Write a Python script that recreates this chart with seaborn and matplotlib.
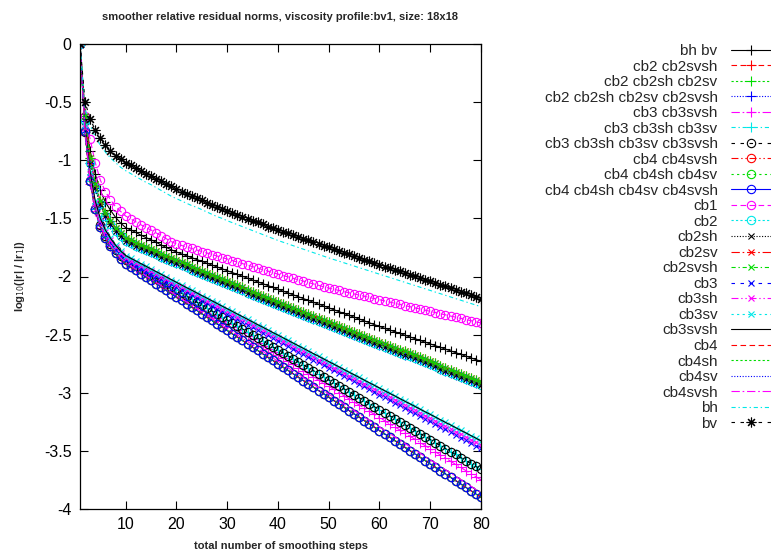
import matplotlib
matplotlib.use("Agg")
import matplotlib.pyplot as plt
import numpy as np
import pandas as pd
import seaborn as sns

# ---------------------------------------------------------------- data
steps = list(range(1, 81))

res_bv = [0, -0.50, -0.645, -0.74, -0.81, -0.87, -0.92, -0.96, -0.99, -1.02,
          -1.045, -1.07, -1.09, -1.115, -1.135, -1.16, -1.18, -1.205, -1.225, -1.25,
          -1.27, -1.29, -1.305, -1.325, -1.345, -1.365, -1.385, -1.40, -1.42, -1.44,
          -1.455, -1.47, -1.49, -1.505, -1.52, -1.535, -1.55, -1.57, -1.585, -1.60,
          -1.615, -1.63, -1.645, -1.66, -1.675, -1.69, -1.705, -1.72, -1.735, -1.75,
          -1.765, -1.78, -1.795, -1.81, -1.825, -1.84, -1.855, -1.87, -1.885, -1.90,
          -1.914, -1.928, -1.942, -1.956, -1.97, -1.984, -1.998, -2.012, -2.026, -2.04,
          -2.055, -2.07, -2.085, -2.10, -2.115, -2.13, -2.145, -2.16, -2.175, -2.19]

res_bh = [0, -0.56, -0.70, -0.80, -0.87, -0.93, -0.98, -1.02, -1.06, -1.09,
          -1.115, -1.14, -1.165, -1.19, -1.21, -1.235, -1.26, -1.285, -1.31, -1.33,
          -1.35, -1.37, -1.39, -1.405, -1.425, -1.445, -1.465, -1.485, -1.50, -1.52,
          -1.537, -1.554, -1.571, -1.588, -1.605, -1.622, -1.639, -1.656, -1.673, -1.69,
          -1.705, -1.72, -1.735, -1.75, -1.765, -1.78, -1.795, -1.81, -1.825, -1.84,
          -1.854, -1.868, -1.882, -1.896, -1.91, -1.924, -1.938, -1.952, -1.966, -1.98,
          -1.994, -2.008, -2.022, -2.036, -2.05, -2.064, -2.078, -2.092, -2.106, -2.12,
          -2.134, -2.148, -2.162, -2.176, -2.19, -2.204, -2.218, -2.232, -2.246, -2.26]

res_cb1 = [0, -0.62, -0.82, -1.02, -1.17, -1.27, -1.34, -1.40, -1.44, -1.48,
           -1.505, -1.53, -1.555, -1.58, -1.60, -1.625, -1.65, -1.675, -1.70, -1.72,
           -1.733, -1.746, -1.759, -1.772, -1.785, -1.798, -1.811, -1.824, -1.837, -1.85,
           -1.863, -1.876, -1.889, -1.902, -1.915, -1.928, -1.941, -1.954, -1.967, -1.98,
           -1.992, -2.004, -2.016, -2.028, -2.04, -2.052, -2.064, -2.076, -2.088, -2.10,
           -2.11, -2.12, -2.13, -2.14, -2.15, -2.16, -2.17, -2.18, -2.19, -2.20,
           -2.21, -2.22, -2.23, -2.24, -2.25, -2.26, -2.27, -2.28, -2.29, -2.30,
           -2.31, -2.32, -2.33, -2.34, -2.35, -2.36, -2.37, -2.38, -2.39, -2.40]

res_bhbv = [0, -0.60, -0.92, -1.12, -1.26, -1.36, -1.43, -1.49, -1.54, -1.58,
            -1.60, -1.62, -1.645, -1.665, -1.685, -1.705, -1.73, -1.75, -1.77, -1.79,
            -1.806, -1.822, -1.838, -1.854, -1.87, -1.886, -1.902, -1.918, -1.934, -1.95,
            -1.966, -1.982, -1.998, -2.014, -2.03, -2.046, -2.062, -2.078, -2.094, -2.11,
            -2.126, -2.142, -2.158, -2.174, -2.19, -2.206, -2.222, -2.238, -2.254, -2.27,
            -2.286, -2.302, -2.318, -2.334, -2.35, -2.366, -2.382, -2.398, -2.414, -2.43,
            -2.445, -2.46, -2.475, -2.49, -2.505, -2.52, -2.535, -2.55, -2.565, -2.58,
            -2.595, -2.61, -2.625, -2.64, -2.655, -2.67, -2.685, -2.70, -2.715, -2.73]

res_cb2_a = [0, -0.62, -0.98, -1.20, -1.35, -1.45, -1.52, -1.58, -1.63, -1.67,
             -1.69, -1.71, -1.727, -1.746, -1.765, -1.784, -1.803, -1.822, -1.841, -1.86,
             -1.878, -1.896, -1.914, -1.932, -1.95, -1.968, -1.986, -2.004, -2.022, -2.04,
             -2.058, -2.076, -2.094, -2.112, -2.13, -2.148, -2.166, -2.184, -2.202, -2.22,
             -2.237, -2.254, -2.271, -2.288, -2.305, -2.322, -2.339, -2.356, -2.373, -2.39,
             -2.407, -2.424, -2.441, -2.458, -2.475, -2.492, -2.509, -2.526, -2.543, -2.56,
             -2.577, -2.594, -2.611, -2.628, -2.645, -2.662, -2.679, -2.696, -2.713, -2.73,
             -2.748, -2.766, -2.784, -2.802, -2.82, -2.838, -2.856, -2.874, -2.892, -2.91]

res_cb2_b = [0, -0.66, -1.02, -1.24, -1.38, -1.48, -1.55, -1.61, -1.655, -1.695,
             -1.715, -1.735, -1.753, -1.772, -1.791, -1.81, -1.829, -1.848, -1.867, -1.886,
             -1.904, -1.922, -1.94, -1.958, -1.976, -1.994, -2.012, -2.03, -2.048, -2.066,
             -2.084, -2.102, -2.12, -2.138, -2.156, -2.174, -2.192, -2.21, -2.228, -2.246,
             -2.263, -2.28, -2.297, -2.314, -2.331, -2.348, -2.365, -2.382, -2.399, -2.416,
             -2.433, -2.45, -2.467, -2.484, -2.501, -2.518, -2.535, -2.552, -2.569, -2.586,
             -2.603, -2.62, -2.637, -2.654, -2.671, -2.688, -2.705, -2.722, -2.739, -2.756,
             -2.774, -2.792, -2.81, -2.828, -2.846, -2.864, -2.882, -2.90, -2.918, -2.936]

res_cb3_svsh = [0, -0.70, -1.10, -1.35, -1.50, -1.60, -1.67, -1.73, -1.78, -1.82,
                -1.843, -1.866, -1.889, -1.912, -1.935, -1.958, -1.981, -2.004, -2.027, -2.05,
                -2.073, -2.096, -2.118, -2.141, -2.164, -2.186, -2.209, -2.232, -2.255, -2.277,
                -2.30, -2.323, -2.345, -2.368, -2.391, -2.414, -2.436, -2.459, -2.482, -2.504,
                -2.527, -2.55, -2.573, -2.595, -2.618, -2.641, -2.664, -2.686, -2.709, -2.732,
                -2.754, -2.777, -2.80, -2.823, -2.845, -2.868, -2.891, -2.914, -2.936, -2.959,
                -2.982, -3.005, -3.027, -3.05, -3.073, -3.095, -3.118, -3.141, -3.164, -3.186,
                -3.209, -3.232, -3.255, -3.277, -3.30, -3.323, -3.345, -3.368, -3.391, -3.414]

res_cb3_sh = [0, -0.72, -1.12, -1.37, -1.52, -1.62, -1.69, -1.75, -1.80, -1.84,
              -1.863, -1.886, -1.909, -1.932, -1.955, -1.978, -2.001, -2.024, -2.047, -2.07,
              -2.093, -2.116, -2.139, -2.162, -2.185, -2.208, -2.231, -2.254, -2.277, -2.30,
              -2.323, -2.346, -2.369, -2.392, -2.415, -2.438, -2.461, -2.484, -2.507, -2.53,
              -2.553, -2.576, -2.599, -2.622, -2.645, -2.668, -2.691, -2.714, -2.737, -2.76,
              -2.783, -2.806, -2.829, -2.852, -2.875, -2.898, -2.921, -2.944, -2.967, -2.99,
              -3.013, -3.036, -3.059, -3.082, -3.105, -3.128, -3.151, -3.174, -3.197, -3.22,
              -3.243, -3.266, -3.289, -3.312, -3.335, -3.358, -3.381, -3.404, -3.427, -3.45]

res_cb3 = [0, -0.74, -1.14, -1.39, -1.54, -1.64, -1.71, -1.77, -1.82, -1.86,
           -1.883, -1.906, -1.929, -1.952, -1.976, -1.999, -2.022, -2.045, -2.068, -2.091,
           -2.114, -2.137, -2.16, -2.184, -2.207, -2.23, -2.253, -2.276, -2.299, -2.322,
           -2.345, -2.368, -2.392, -2.415, -2.438, -2.461, -2.484, -2.507, -2.53, -2.553,
           -2.576, -2.60, -2.623, -2.646, -2.669, -2.692, -2.715, -2.738, -2.761, -2.784,
           -2.808, -2.831, -2.854, -2.877, -2.90, -2.923, -2.946, -2.969, -2.992, -3.016,
           -3.039, -3.062, -3.085, -3.108, -3.131, -3.154, -3.177, -3.20, -3.224, -3.247,
           -3.27, -3.293, -3.316, -3.339, -3.362, -3.385, -3.408, -3.432, -3.455, -3.478]

res_cb3_combo = [0, -0.76, -1.18, -1.42, -1.56, -1.65, -1.72, -1.77, -1.82, -1.86,
                 -1.886, -1.911, -1.937, -1.963, -1.989, -2.014, -2.04, -2.066, -2.091, -2.117,
                 -2.143, -2.169, -2.194, -2.22, -2.246, -2.271, -2.297, -2.323, -2.349, -2.374,
                 -2.40, -2.426, -2.451, -2.477, -2.503, -2.529, -2.554, -2.58, -2.606, -2.631,
                 -2.657, -2.683, -2.709, -2.734, -2.76, -2.786, -2.811, -2.837, -2.863, -2.889,
                 -2.914, -2.94, -2.966, -2.991, -3.017, -3.043, -3.069, -3.094, -3.12, -3.146,
                 -3.171, -3.197, -3.223, -3.249, -3.274, -3.30, -3.326, -3.351, -3.377, -3.403,
                 -3.429, -3.454, -3.48, -3.506, -3.531, -3.557, -3.583, -3.609, -3.634, -3.66]

res_cb3_cb3svsh = [0, -0.78, -1.20, -1.44, -1.58, -1.67, -1.74, -1.79, -1.84, -1.87,
                   -1.897, -1.924, -1.951, -1.977, -2.004, -2.031, -2.058, -2.085, -2.112, -2.139,
                   -2.165, -2.192, -2.219, -2.246, -2.273, -2.30, -2.327, -2.353, -2.38, -2.407,
                   -2.434, -2.461, -2.488, -2.515, -2.541, -2.568, -2.595, -2.622, -2.649, -2.676,
                   -2.703, -2.729, -2.756, -2.783, -2.81, -2.837, -2.864, -2.891, -2.917, -2.944,
                   -2.971, -2.998, -3.025, -3.052, -3.079, -3.105, -3.132, -3.159, -3.186, -3.213,
                   -3.24, -3.267, -3.293, -3.32, -3.347, -3.374, -3.401, -3.428, -3.455, -3.481,
                   -3.508, -3.535, -3.562, -3.589, -3.616, -3.643, -3.669, -3.696, -3.723, -3.75]

res_cb4 = [0, -0.75, -1.18, -1.42, -1.57, -1.67, -1.74, -1.80, -1.85, -1.89,
           -1.919, -1.947, -1.976, -2.005, -2.034, -2.062, -2.091, -2.12, -2.148, -2.177,
           -2.206, -2.234, -2.263, -2.292, -2.321, -2.349, -2.378, -2.407, -2.435, -2.464,
           -2.493, -2.521, -2.55, -2.579, -2.608, -2.636, -2.665, -2.694, -2.722, -2.751,
           -2.78, -2.808, -2.837, -2.866, -2.895, -2.923, -2.952, -2.981, -3.009, -3.038,
           -3.067, -3.095, -3.124, -3.153, -3.182, -3.21, -3.239, -3.268, -3.296, -3.325,
           -3.354, -3.382, -3.411, -3.44, -3.469, -3.497, -3.526, -3.555, -3.583, -3.612,
           -3.641, -3.669, -3.698, -3.727, -3.756, -3.784, -3.813, -3.842, -3.87, -3.899]

res_cb4_svsh = [0, -0.74, -1.17, -1.41, -1.56, -1.66, -1.73, -1.79, -1.84, -1.88,
                -1.908, -1.937, -1.965, -1.993, -2.021, -2.05, -2.078, -2.106, -2.135, -2.163,
                -2.191, -2.219, -2.248, -2.276, -2.304, -2.333, -2.361, -2.389, -2.417, -2.446,
                -2.474, -2.502, -2.531, -2.559, -2.587, -2.615, -2.644, -2.672, -2.70, -2.729,
                -2.757, -2.785, -2.813, -2.842, -2.87, -2.898, -2.927, -2.955, -2.983, -3.011,
                -3.04, -3.068, -3.096, -3.125, -3.153, -3.181, -3.209, -3.238, -3.266, -3.294,
                -3.323, -3.351, -3.379, -3.407, -3.436, -3.464, -3.492, -3.521, -3.549, -3.577,
                -3.605, -3.634, -3.662, -3.69, -3.719, -3.747, -3.775, -3.803, -3.832, -3.86]

series_names = ["bh bv", "cb2 cb2svsh", "cb2 cb2sh cb2sv", "cb2 cb2sh cb2sv cb2svsh",
                "cb3 cb3svsh", "cb3 cb3sh cb3sv", "cb3 cb3sh cb3sv cb3svsh",
                "cb4 cb4svsh", "cb4 cb4sh cb4sv", "cb4 cb4sh cb4sv cb4svsh",
                "cb1", "cb2", "cb2sh", "cb2sv", "cb2svsh", "cb3", "cb3sh", "cb3sv",
                "cb3svsh", "cb4", "cb4sh", "cb4sv", "cb4svsh", "bh", "bv"]

series_values = [res_bhbv, res_cb2_a, res_cb2_a, res_cb2_b,
                 res_cb3_cb3svsh, res_cb3_combo, res_cb3_combo,
                 res_cb4, res_cb4, res_cb4,
                 res_cb1, res_cb2_b, res_cb2_b, res_cb2_a, res_cb2_a,
                 res_cb3, res_cb3_sh, res_cb3_svsh, res_cb3_svsh,
                 res_cb4, res_cb4, res_cb4, res_cb4_svsh, res_bh, res_bv]

y_ticks = [0, -0.5, -1, -1.5, -2, -2.5, -3, -3.5, -4]
y_tick_labels = ["0", "-0.5", "-1", "-1.5", "-2", "-2.5", "-3", "-3.5", "-4"]
x_ticks = [10, 20, 30, 40, 50, 60, 70, 80]

# ---------------------------------------------------------------- styles
sns.set_theme(style="ticks")
plt.rcParams["font.family"] = ["Liberation Sans", "DejaVu Sans"]
plt.rcParams["axes.unicode_minus"] = False
plt.rcParams["lines.scale_dashes"] = False

palette = ["#000000", "#ff0000", "#00dd00", "#0000ff", "#ff00ff", "#00e8e8"]
dash_cycle = ["-", (0, (4, 2.5)), (0, (1.6, 1.6)), (0, (0.8, 1.2)),
              (0, (6, 2, 1.2, 2)), (0, (3, 2, 1, 2)), (0, (2.5, 4)),
              (0, (5, 2, 1, 2, 1, 2)), (0, (1.6, 2.4))]


def marker_for(i):
    if i < 6:
        return "+", 6.5
    if i < 12:
        return "o", 6
    if i < 18:
        return "x", 5
    if i < 24:
        return None, 0
    return (8, 2, 0), 7


long_df = pd.DataFrame({
    "step": np.tile(steps, len(series_names)),
    "value": np.concatenate([np.asarray(v, dtype=float) for v in series_values]),
    "series": np.repeat(series_names, len(steps)),
})

fig = plt.figure(figsize=(7.71, 5.5), dpi=100)
ax = fig.add_axes([80 / 771, 1 - 509 / 550, 401 / 771, 465 / 550])

for i, name in enumerate(series_names):
    sub = long_df[long_df["series"] == name]
    mk, ms = marker_for(i)
    kws = dict(color=palette[i % 6], linestyle=dash_cycle[i % 9], linewidth=0.8)
    if mk is not None:
        kws.update(marker=mk, markersize=ms, markeredgewidth=0.8,
                   markerfacecolor="none", markeredgecolor=palette[i % 6])
    sns.lineplot(data=sub, x="step", y="value", ax=ax, label=name,
                 legend=False, sort=False, estimator=None, **kws)

ax.set_xlim(1, 80)
ax.set_ylim(-4, 0)
ax.set_xticks(x_ticks)
ax.set_xticklabels([str(t) for t in x_ticks])
ax.set_yticks(y_ticks)
ax.set_yticklabels(y_tick_labels)
ax.tick_params(direction="in", top=True, right=True, length=6, width=0.8,
               labelsize=11.5, colors="black", pad=6)
for s in ax.spines.values():
    s.set_linewidth(0.9)
    s.set_color("black")

ax.set_title("smoother relative residual norms, viscosity profile:bv1, size: 18x18",
             fontsize=8, fontweight="bold", pad=17)
ax.set_xlabel("total number of smoothing steps", fontsize=8, fontweight="bold",
              labelpad=6)
ax.set_ylabel(r"log$_{10}$(|r| / |r$_1$|)", fontsize=8, fontweight="bold",
              labelpad=12)

handles = ax.get_lines()
fig.legend(handles, series_names, loc="upper right",
           bbox_to_anchor=(1.0, 1 - 44 / 550), markerfirst=False, frameon=False,
           fontsize=11, handlelength=2.6, handletextpad=0.9, labelspacing=0.1,
           borderaxespad=0, borderpad=0, numpoints=1)

fig.savefig("out.png", dpi=100)
